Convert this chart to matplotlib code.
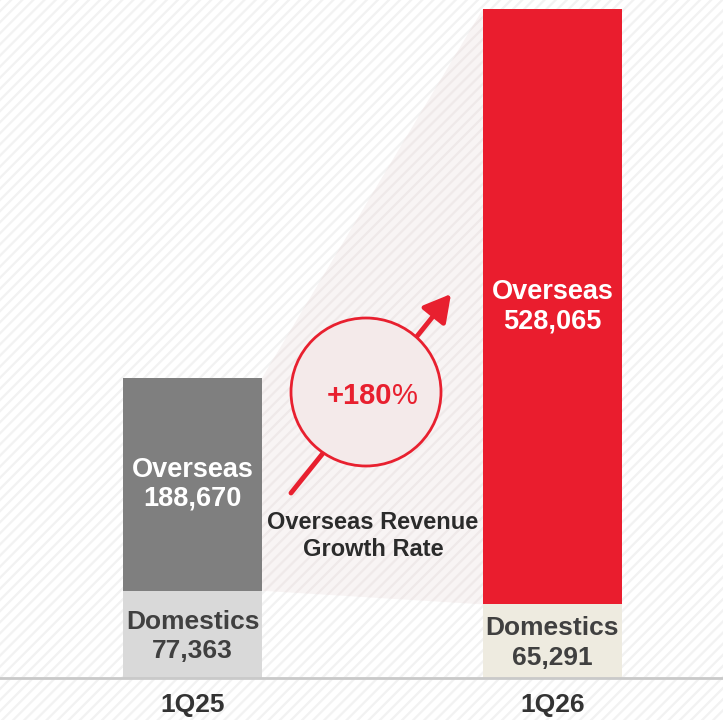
import matplotlib
matplotlib.use("Agg")
import matplotlib.pyplot as plt
from matplotlib.patches import Rectangle, Polygon, Ellipse

plt.rcParams['font.family'] = ['Liberation Sans', 'DejaVu Sans']
plt.rcParams['hatch.linewidth'] = 1.6

categories = ["1Q25", "1Q26"]
domestics = [77363, 65291]
overseas = [188670, 528065]
growth_label = "+180"
growth_caption = "Overseas Revenue\nGrowth Rate"

W, H = 723, 720
fig = plt.figure(figsize=(W / 100, H / 100), dpi=100)
fig.patch.set_facecolor("white")
ax = fig.add_axes([0, 0, 1, 1])

# background stripes
ax.add_patch(Rectangle((0, 0), 1, 1, transform=ax.transAxes, facecolor="white",
                       edgecolor="#f2f2f2", hatch="///", linewidth=0, zorder=0))

x = [0, 1]
width = 0.386
dom_colors = ["#d9d9d9", "#eeebe0"]
ovs_colors = ["#7f7f7f", "#ea1d2e"]

ax.bar(x, domestics, width=width, color=dom_colors, zorder=3, linewidth=0)
ax.bar(x, overseas, width=width, bottom=domestics, color=ovs_colors, zorder=3, linewidth=0)

# connector wedge between overseas segments
tops = [d + o for d, o in zip(domestics, overseas)]
wedge = Polygon([(x[0] + width / 2, domestics[0]), (x[0] + width / 2, tops[0]),
                 (x[1] - width / 2, tops[1]), (x[1] - width / 2, domestics[1])],
                closed=True, facecolor="#f8f4f4", edgecolor="#efe9e9", hatch="///",
                linewidth=0, zorder=1)
ax.add_patch(wedge)

ax.set_xlim(-0.535, 1.474)
upp = tops[0] / 300.0  # units per pixel
ax.set_ylim(-42 * upp, 678 * upp)
ax.axis("off")

# baseline
ax.axhline(0, color="#c9c9c9", lw=2, zorder=4)

# labels inside bars
for i in range(2):
    ax.text(x[i], domestics[i] / 2 - 2 * upp, f"Domestics\n{domestics[i]:,}", ha="center", va="center",
            fontsize=19, fontweight="bold", color="#404040", linespacing=1.3, zorder=5)
    ax.text(x[i], domestics[i] + overseas[i] / 2, f"Overseas\n{overseas[i]:,}", ha="center",
            va="center", fontsize=19.5, fontweight="bold", color="white", linespacing=1.15, zorder=5)
    ax.text(x[i], -27 * upp, categories[i], ha="center", va="center",
            fontsize=19, fontweight="bold", color="#333333", zorder=5)

# arrow and circle (figure-pixel placement)
def fp(px, py):
    return (px / W, 1 - py / H)

ax.annotate("", xy=fp(451, 294), xytext=fp(291, 493), xycoords="axes fraction",
            textcoords="axes fraction",
            arrowprops=dict(arrowstyle="-|>,head_length=0.9,head_width=0.5", color="#e8202f",
                            lw=3.5, mutation_scale=18, shrinkA=0, shrinkB=0), zorder=6)
cx, cy = fp(366, 392)
ax.add_patch(Ellipse((cx, cy), 150 / W, 148 / H, transform=ax.transAxes,
                     facecolor="#f4eaea", edgecolor="#e8202f", lw=2, zorder=7))
px_, py_ = fp(392, 396)
ax.text(px_, py_, growth_label, transform=ax.transAxes, ha="right", va="center",
        fontsize=21, fontweight="bold", color="#e8202f", zorder=8)
ax.text(px_, py_, "%", transform=ax.transAxes, ha="left", va="center",
        fontsize=21, color="#e8202f", zorder=8)
tx, ty = fp(373, 536)
ax.text(tx, ty, growth_caption, transform=ax.transAxes, ha="center", va="center",
        fontsize=17, fontweight="bold", color="#2b2b2b", linespacing=1.2, zorder=8)

fig.savefig("out.png", dpi=100)
